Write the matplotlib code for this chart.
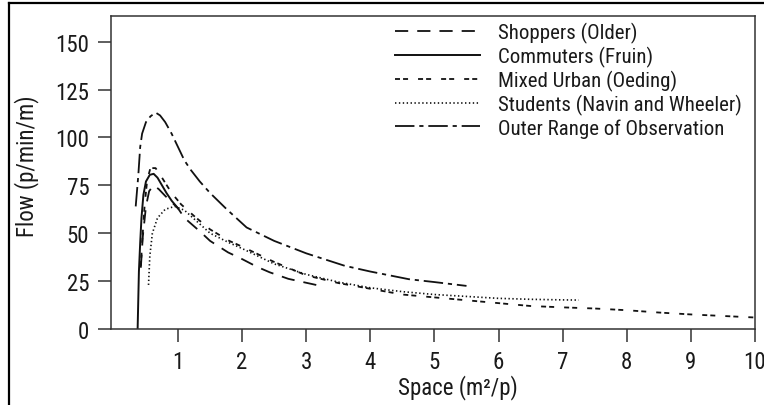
import matplotlib
matplotlib.use("Agg")
import matplotlib.pyplot as plt
from matplotlib import font_manager
from matplotlib.lines import Line2D

# ---------------- data ----------------
shoppers_x = [0.42, 0.45, 0.50, 0.55, 0.62, 0.70, 0.80, 1.00, 1.10, 1.34, 1.50, 1.78, 2.00, 2.23, 2.43, 2.72, 2.95, 3.25]
shoppers_y = [32, 48, 64, 72, 75, 73, 69.5, 63, 58, 51, 46, 40, 36.5, 32.5, 29.6, 26.2, 24.5, 22.3]

commuters_x = [0.37, 0.38, 0.39, 0.41, 0.43, 0.46, 0.50, 0.56, 0.62, 0.68, 0.75, 0.82, 0.90, 1.00]
commuters_y = [0, 15, 30, 45, 58, 70, 77, 80.5, 81, 79, 75, 71, 67, 63]

mixed_x = [0.42, 0.44, 0.48, 0.52, 0.57, 0.65, 0.75, 0.90, 1.05, 1.25, 1.50, 1.80, 2.00, 2.50, 3.00, 3.50, 4.00, 4.50,
           5.00, 5.50, 6.00, 6.50, 7.00, 7.50, 8.00, 8.50, 9.00, 9.50, 10.0]
mixed_y = [33, 45, 65, 78, 84, 84, 79, 71, 65, 59, 52, 46, 43, 35, 28, 24, 21, 18,
           16.5, 15, 13.5, 12, 11.3, 10.7, 9.8, 8.6, 7.6, 6.8, 6.0]

students_x = [0.54, 0.56, 0.60, 0.68, 0.80, 0.95, 1.10, 1.30, 1.50, 1.80, 2.00, 2.50, 3.00, 3.50, 4.00, 4.50,
              5.00, 5.50, 6.00, 6.50, 7.00, 7.25]
students_y = [23, 38, 50, 58, 62.5, 64, 62, 56, 50, 45, 42, 34, 28.5, 24.5, 21.5, 19.5,
              18, 17, 16, 15.5, 15.2, 15.1]

outer_x = [0.34, 0.38, 0.41, 0.44, 0.50, 0.57, 0.65, 0.72, 0.80, 0.90, 1.00, 1.10, 1.20, 1.34, 1.50, 1.76, 2.07,
           2.50, 3.00, 3.60, 4.00, 4.60, 5.00, 5.50]
outer_y = [64, 80, 95, 102, 108, 111, 113, 111.5, 108, 102, 95, 88, 83, 77, 71, 62.5, 53,
           46, 39.5, 33, 30, 26, 24.5, 22.5]

series_labels = ["Shoppers (Older)", "Commuters (Fruin)", "Mixed Urban (Oeding)",
                 "Students (Navin and Wheeler)", "Outer Range of Observation"]
x_ticks = [1, 2, 3, 4, 5, 6, 7, 8, 9, 10]
y_ticks = [0, 25, 50, 75, 100, 125, 150]

# ---------------- fonts ----------------
names = {f.name for f in font_manager.fontManager.ttflist}
family = "DejaVu Sans"
for cand in ["Liberation Sans Narrow", "Roboto Condensed", "Open Sans Condensed", "Liberation Sans"]:
    if cand in names:
        family = cand
        break
plt.rcParams["font.family"] = [family, "DejaVu Sans"]
plt.rcParams["lines.scale_dashes"] = False

W, H = 764, 406
fig = plt.figure(figsize=(W / 100, H / 100), dpi=100)
left, right, top, bottom = 110.7, 755.0, 17.0, 330.0
ax = fig.add_axes([left / W, 1 - bottom / H, (right - left) / W, (bottom - top) / H])

ink = "#111111"
lw = 1.3
ax.plot(shoppers_x, shoppers_y, color=ink, lw=lw, dashes=(9.5, 6.5), label=series_labels[0])
ax.plot(commuters_x, commuters_y, color=ink, lw=1.4, label=series_labels[1])
ax.plot(mixed_x, mixed_y, color=ink, lw=lw, dashes=(3.6, 2.2, 3.6, 7.2), label=series_labels[2])
ax.plot(students_x, students_y, color=ink, lw=1.2, dashes=(1.0, 1.8), label=series_labels[3])
ax.plot(outer_x, outer_y, color=ink, lw=lw, dashes=(14, 3.5, 3, 3.5), label=series_labels[4])

ax.set_xlim(-0.05, 10)
ax.set_ylim(0, 163.4)
ax.set_xticks(x_ticks)
ax.set_yticks(y_ticks)

spine_c = "#333333"
for s in ax.spines.values():
    s.set_color(spine_c)
    s.set_linewidth(1.1)
ax.tick_params(axis="both", direction="out", length=9.5, width=1.1, color=spine_c,
               labelsize=16.5, labelcolor="#1a1a1a")
ax.tick_params(axis="x", pad=5.5)
ax.tick_params(axis="y", pad=6.0)

ax.set_xlabel("Space (m²/p)", fontsize=16.5, color="#1a1a1a")
ax.set_ylabel("Flow (p/min/m)", fontsize=16.5, color="#1a1a1a")
ax.xaxis.set_label_coords((458 - left) / (right - left), -(388 - bottom) / (bottom - top))
ax.xaxis.label.set_verticalalignment("center")
ax.yaxis.set_label_coords((27 - left) / (right - left), (bottom - 166) / (bottom - top))
ax.yaxis.label.set_verticalalignment("center")

leg = ax.legend(loc="upper left", bbox_to_anchor=((395 - left) / (right - left), (bottom - 23) / (bottom - top)),
                frameon=False, fontsize=15, handlelength=4.1, handletextpad=0.85,
                labelspacing=0.14, borderpad=0, borderaxespad=0)
for t in leg.get_texts():
    t.set_color("#1a1a1a")

# outer figure border (left and top visible in the reference)
fig.add_artist(Line2D([8.5 / W, 8.5 / W], [0, 1 - 3.5 / H], transform=fig.transFigure, color="black", lw=1.6))
fig.add_artist(Line2D([8.5 / W, 1.0], [1 - 3.5 / H, 1 - 3.5 / H], transform=fig.transFigure, color="black", lw=1.6))

fig.savefig("out.png", dpi=100)
